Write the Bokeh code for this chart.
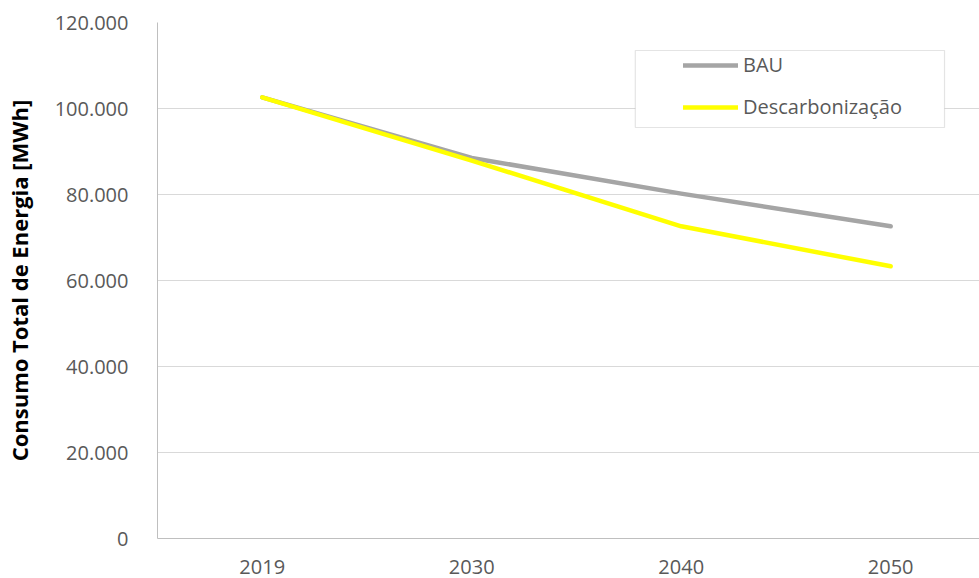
from bokeh.plotting import figure
from bokeh.models import FixedTicker, Legend, LegendItem, BoxAnnotation, Range1d
from bokeh.embed import file_html
from bokeh.resources import INLINE

# ---- data ----
years = ["2019", "2030", "2040", "2050"]
bau = [102600, 88500, 80200, 72600]
descarbonizacao = [102600, 87900, 72600, 63300]
y_ticks = [0, 20000, 40000, 60000, 80000, 100000, 120000]
y_tick_labels = ["0", "20.000", "40.000", "60.000", "80.000", "100.000", "120.000"]
series_names = ["BAU", "Descarbonização"]

FONT = "Open Sans"
TXT = "#595959"

x = list(range(len(years)))

p = figure(width=979, height=578, output_backend="svg", toolbar_location=None,
           x_range=Range1d(-0.5, 3.424), y_range=Range1d(0, 120000),
           min_border_left=155, min_border_right=0, min_border_top=22,
           min_border_bottom=40)
p.outline_line_color = None
p.background_fill_color = "white"
p.border_fill_color = "white"

p.xgrid.grid_line_color = None
p.ygrid.grid_line_color = "#d9d9d9"
p.ygrid.grid_line_width = 1

p.yaxis.ticker = FixedTicker(ticks=y_ticks)
p.yaxis.major_label_overrides = {t: l for t, l in zip(y_ticks, y_tick_labels)}
p.xaxis.ticker = FixedTicker(ticks=x)
p.xaxis.major_label_overrides = {i: y for i, y in zip(x, years)}

for ax in (p.xaxis[0], p.yaxis[0]):
    ax.axis_line_color = "#bfbfbf"
    ax.axis_line_width = 1
    ax.major_tick_line_color = None
    ax.minor_tick_line_color = None
    ax.major_label_text_font = FONT
    ax.major_label_text_font_size = "20px"
    ax.major_label_text_color = TXT

p.yaxis.major_label_standoff = 23
p.xaxis.major_label_standoff = 15
p.yaxis.axis_label = "Consumo Total de Energia [MWh]"
p.yaxis.axis_label_text_font = FONT
p.yaxis.axis_label_text_font_style = "bold"
p.yaxis.axis_label_text_font_size = "22px"
p.yaxis.axis_label_text_color = "black"
p.yaxis.axis_label_standoff = 18

r_bau = p.line(x, bau, line_width=4.5, line_color="#a5a5a5", line_cap="round", line_join="round")
r_dec = p.line(x, descarbonizacao, line_width=4.5, line_color="#ffff00", line_cap="round", line_join="round")

# legend frame (white box with grey border)
box = BoxAnnotation(left=1.781, right=3.257, bottom=95580, top=113490,
                    fill_color="white", fill_alpha=1.0,
                    line_color="#a6a6a6", line_width=1.2)
p.add_layout(box)

legend = Legend(items=[LegendItem(label=series_names[0], renderers=[r_bau]),
                       LegendItem(label=series_names[1], renderers=[r_dec])],
                location=(526, 418))
legend.border_line_color = None
legend.background_fill_alpha = 0
legend.padding = 0
legend.margin = 0
legend.spacing = 15
legend.glyph_width = 55
legend.glyph_height = 24
legend.label_height = 24
legend.label_standoff = 5
legend.label_text_font = FONT
legend.label_text_font_size = "20px"
legend.label_text_color = TXT
p.add_layout(legend, "center")

open("out.html", "w").write(file_html(p, INLINE))
